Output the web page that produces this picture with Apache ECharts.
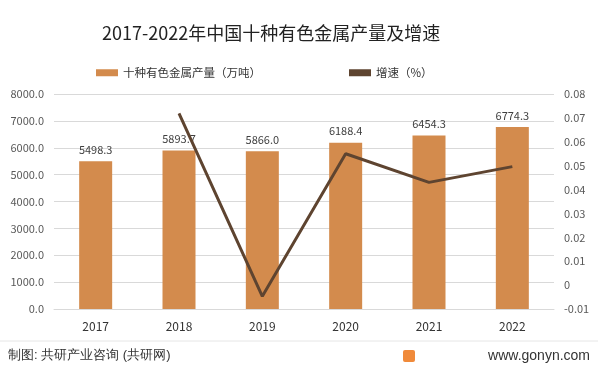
<!DOCTYPE html>
<html><head><meta charset="utf-8">
<script src="https://cdn.jsdelivr.net/npm/echarts@6/dist/echarts.min.js"></script>
<style>html,body{margin:0;padding:0;background:#fff}#c{width:598px;height:372px}</style>
</head><body><div id="c"></div>
<script>
const categories = ['2017','2018','2019','2020','2021','2022'];
const output = [5498.3, 5893.7, 5866.0, 6188.4, 6454.3, 6774.3];
const growth = [null, 0.0719, -0.0047, 0.055, 0.043, 0.0496];
const title = '2017-2022年中国十种有色金属产量及增速';
const seriesNames = ['十种有色金属产量（万吨）', '增速（%）'];
const source = '制图: 共研产业咨询 (共研网)';
const site = 'www.gonyn.com';

const font = '"Noto Sans CJK SC", "Liberation Sans", sans-serif';
const chart = echarts.init(document.getElementById('c'));
chart.setOption({
  backgroundColor: '#fff',
  animation: false,
  textStyle: {fontFamily: font},
  title: {text: title, left: 97, top: 19, textStyle: {fontSize: 18, fontWeight: 'normal', color: '#222', fontFamily: font}},
  legend: {
    left: 91, top: 62, itemWidth: 22, itemHeight: 7, itemGap: 88,
    textStyle: {fontSize: 11.5, color: '#333', fontFamily: font},
    data: [{name: seriesNames[0], icon: 'rect'}, {name: seriesNames[1], icon: 'rect', itemStyle: {color: '#5e4430'}}]
  },
  grid: {left: 54, right: 44, top: 94, bottom: 63},
  xAxis: {
    type: 'category', data: categories,
    axisLine: {show: true, lineStyle: {color: '#d9d9d9'}},
    axisTick: {show: false},
    axisLabel: {color: '#333', fontSize: 12, margin: 11}
  },
  yAxis: [{
    type: 'value', min: 0, max: 8000, interval: 1000,
    axisLine: {show: false}, axisTick: {show: false},
    splitLine: {lineStyle: {color: '#d9d9d9'}},
    axisLabel: {color: '#595959', fontSize: 11, margin: 10, formatter: v => v.toFixed(1)}
  }, {
    type: 'value', min: -0.01, max: 0.08, interval: 0.01,
    axisLine: {show: false}, axisTick: {show: false}, splitLine: {show: false},
    axisLabel: {color: '#595959', fontSize: 11, margin: 10, align: 'left',
      formatter: v => { const r = Math.round(v * 100) / 100; return r === 0 ? '0' : r.toFixed(2); }}
  }],
  series: [{
    name: seriesNames[0], type: 'bar', data: output, barWidth: 33,
    itemStyle: {color: '#d38b4d'},
    label: {show: true, position: 'top', color: '#404040', fontSize: 11, distance: 6, formatter: p => p.value.toFixed(1)}
  }, {
    name: seriesNames[1], type: 'line', yAxisIndex: 1, data: growth,
    symbol: 'none', lineStyle: {color: '#5e4430', width: 3}, itemStyle: {color: '#5e4430'}
  }],
  graphic: [
    {type: 'line', shape: {x1: 0, y1: 341, x2: 598, y2: 341}, style: {stroke: '#e6e6e6', lineWidth: 1}},
    {type: 'text', left: 8, top: 349, style: {text: source, fontSize: 13, fill: '#333', font: '13px ' + font}},
    {type: 'rect', shape: {x: 403, y: 350, width: 12, height: 12, r: 2}, style: {fill: '#f08a3a'}},
    {type: 'text', right: 8, top: 349, style: {text: site, fontSize: 14, fill: '#333', font: '14px "Liberation Sans", sans-serif'}}
  ]
});
</script></body></html>
